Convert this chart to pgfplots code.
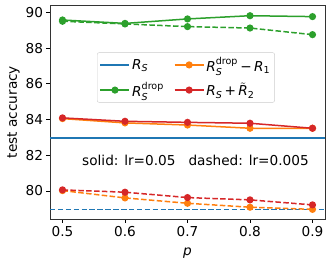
\documentclass[border=0pt]{standalone}
\usepackage{fontspec}
\setmainfont{DejaVu Sans}
\usepackage{amsmath}
\usepackage{pgfplots}
\pgfplotsset{compat=1.18}
\definecolor{cblue}{HTML}{1F77B4}
\definecolor{corange}{HTML}{FF7F0E}
\definecolor{cgreen}{HTML}{2CA02C}
\definecolor{cred}{HTML}{D62728}
\begin{document}
\begin{tikzpicture}
\useasboundingbox (-50bp,-46bp) rectangle (283bp,219bp);
\begin{axis}[
  scale only axis, width=275bp, height=214bp,
  xmin=0.48, xmax=0.92, ymin=78.43, ymax=90.41,
  xtick={0.5,0.6,0.7,0.8,0.9}, ytick={80,82,84,86,88,90},
  xticklabel style={/pgf/number format/.cd, fixed, precision=1, fixed zerofill},
  /pgf/number format/assume math mode=true,
  tick align=outside, tick pos=left,
  major tick length=3.5bp,
  every tick/.style={black, line width=0.6bp},
  axis line style={black!80, line width=0.6bp},
  ticklabel style={font=\fontsize{13.7}{16}\selectfont},
  xlabel={\textit{p}},
  ylabel={test accuracy},
  label style={font=\fontsize{13.7}{16}\selectfont},
  xlabel style={at={(axis description cs:0.5,0)}, anchor=base, yshift=-36bp},
  ylabel style={at={(axis description cs:0,0.5)}, anchor=base, rotate=0, yshift=33bp},
  legend columns=2, transpose legend,
  legend cell align=left,
  legend style={at={(0.171,0.7785)}, anchor=north west, draw=black!20,
    rounded corners=2bp, fill=white, fill opacity=0.8, text opacity=1, draw opacity=1,
    font=\fontsize{13.7}{16}\selectfont, inner sep=2.5bp, row sep=5.5bp,
    /tikz/every even column/.append style={column sep=8bp}},
  legend image code/.code={\draw[line width=1.5bp, opacity=1, mark repeat=2,mark phase=2] plot coordinates {(0bp,0bp)(14.5bp,0bp)(29bp,0bp)};},
  every axis plot/.append style={line width=1.5bp},
  mk/.style={mark=*, mark size=2.8bp, mark options={solid}},
  dsh/.style={dash pattern=on 5.5bp off 2.4bp},
]
\addplot[cblue] coordinates {(0.48,82.97)(0.92,82.97)};
\addlegendentry{\textit{R}$_{\textit{S}}$}
\addplot[cblue, dsh, forget plot] coordinates {(0.48,78.96)(0.92,78.96)};

\addplot[cgreen, mk] coordinates {(0.5,89.57)(0.6,89.38)(0.7,89.63)(0.8,89.81)(0.9,89.76)};
\addlegendentry{\textit{R}$^{\text{drop}}_{\textit{S}}$}
\addplot[cgreen, mk, dsh, forget plot] coordinates {(0.5,89.50)(0.6,89.35)(0.7,89.20)(0.8,89.12)(0.9,88.75)};

\addplot[corange, mk] coordinates {(0.5,84.05)(0.6,83.81)(0.7,83.69)(0.8,83.51)(0.9,83.51)};
\addlegendentry{\textit{R}$^{\text{drop}}_{\textit{S}}$\,−\,\textit{R}$_{\text{1}}$}
\addplot[corange, mk, dsh, forget plot] coordinates {(0.5,80.02)(0.6,79.61)(0.7,79.31)(0.8,79.09)(0.9,78.97)};

\addplot[cred, mk] coordinates {(0.5,84.09)(0.6,83.90)(0.7,83.84)(0.8,83.79)(0.9,83.51)};
\addlegendentry{\textit{R}$_{\textit{S}}$\,+\,$\tilde{\textit{R}}_{\text{2}}$}
\addplot[cred, mk, dsh, forget plot] coordinates {(0.5,80.06)(0.6,79.93)(0.7,79.63)(0.8,79.50)(0.9,79.22)};

\node[anchor=base west, inner sep=0pt, font=\fontsize{13.7}{16}\selectfont] at (axis cs:0.5312,81.40) {solid: lr=0.05\hspace{0.954em}dashed: lr=0.005};
\end{axis}
\end{tikzpicture}
\end{document}
